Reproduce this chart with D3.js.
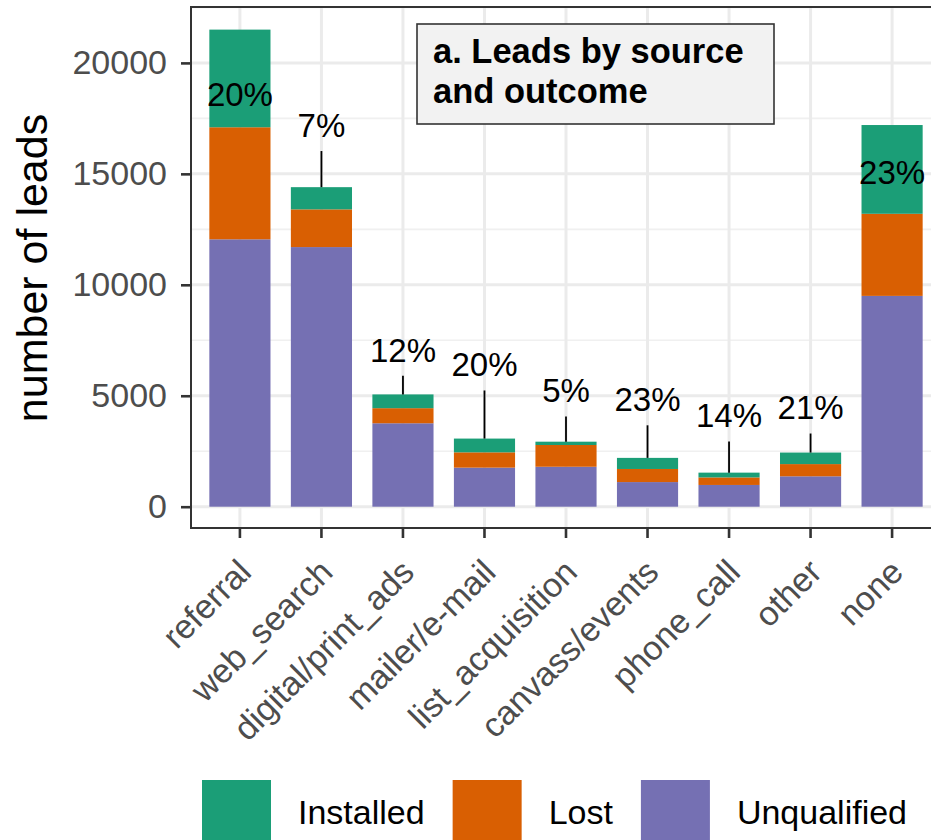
<!DOCTYPE html>
<html>
<head>
<meta charset="utf-8">
<script src="https://cdn.jsdelivr.net/npm/d3@7"></script>
<style>
  html, body { margin: 0; padding: 0; background: #fff; }
  svg { display: block; font-family: "Liberation Sans", Arial, Helvetica, sans-serif; }
</style>
</head>
<body>
<svg id="chart" width="931" height="840"></svg>
<script>
// Lead sources and outcome counts
const sources = ["referral", "web_search", "digital/print_ads", "mailer/e-mail",
  "list_acquisition", "canvass/events", "phone_call", "other", "none"];
const unqualified = [12050, 11700, 3760, 1760, 1800, 1110, 980, 1370, 9500];
const lost        = [5050, 1700, 680, 690, 980, 590, 340, 550, 3700];
const installed   = [4400, 1000, 620, 620, 150, 500, 215, 520, 4000];
const installedPct = ["20%", "7%", "12%", "20%", "5%", "23%", "14%", "21%", "23%"];
// where each percentage label sits, in leads (labels above a bar get a leader line)
const labelAt = [18600, 17200, 7070, 6410, 5240, 4840, 4110, 4470, 15080];
const yTicks = [0, 5000, 10000, 15000, 20000];
const yMinor = [2500, 7500, 12500, 17500, 22500];
const outcomes = ["Installed", "Lost", "Unqualified"];
const outcomeColors = ["#1b9e77", "#d95f02", "#7570b3"];

const svg = d3.select("#chart");
const panel = { left: 191, right: 941, top: 7, bottom: 528 };

const x = d3.scaleBand().domain(sources)
  .range([panel.left, panel.right]).paddingInner(0.25).paddingOuter(0.225);
const y = d3.scaleLinear().domain([0, 20000]).range([506.7, 62.9]);
const color = d3.scaleOrdinal().domain(outcomes).range(outcomeColors);

const rows = sources.map((s, i) => ({
  source: s, Unqualified: unqualified[i], Lost: lost[i], Installed: installed[i],
  pct: installedPct[i], labelAt: labelAt[i]
}));
const stacked = d3.stack().keys(["Unqualified", "Lost", "Installed"])(rows);

svg.append("defs").append("clipPath").attr("id", "panelClip")
  .append("rect").attr("x", panel.left).attr("y", panel.top)
  .attr("width", panel.right - panel.left).attr("height", panel.bottom - panel.top);

const plot = svg.append("g").attr("clip-path", "url(#panelClip)");

// grid
plot.selectAll(".minor").data(yMinor).join("line")
  .attr("x1", panel.left).attr("x2", panel.right)
  .attr("y1", d => y(d)).attr("y2", d => y(d))
  .attr("stroke", "#f0f0f0").attr("stroke-width", 1.6);
plot.selectAll(".major").data(yTicks).join("line")
  .attr("x1", panel.left).attr("x2", panel.right)
  .attr("y1", d => y(d)).attr("y2", d => y(d))
  .attr("stroke", "#ebebeb").attr("stroke-width", 3);
plot.selectAll(".vgrid").data(sources).join("line")
  .attr("x1", d => x(d) + x.bandwidth() / 2).attr("x2", d => x(d) + x.bandwidth() / 2)
  .attr("y1", panel.top).attr("y2", panel.bottom)
  .attr("stroke", "#ebebeb").attr("stroke-width", 3);

// stacked bars
plot.selectAll(".layer").data(stacked).join("g")
  .attr("fill", d => color(d.key))
  .selectAll("rect").data(d => d).join("rect")
  .attr("x", d => x(d.data.source))
  .attr("width", x.bandwidth())
  .attr("y", d => y(d[1]))
  .attr("height", d => y(d[0]) - y(d[1]));

// percentage labels and leader lines
rows.forEach(r => {
  const cx = x(r.source) + x.bandwidth() / 2;
  const total = r.Unqualified + r.Lost + r.Installed;
  const ly = y(r.labelAt);
  if (r.labelAt > total) {
    plot.append("line")
      .attr("x1", cx).attr("x2", cx)
      .attr("y1", ly + 26).attr("y2", y(total))
      .attr("stroke", "#000").attr("stroke-width", 1.8);
  }
  plot.append("text")
    .attr("x", cx).attr("y", ly).attr("dy", "0.36em")
    .attr("text-anchor", "middle")
    .attr("font-size", 33).attr("fill", "#000")
    .text(r.pct);
});

// title box
const tb = svg.append("g");
tb.append("rect").attr("x", 417).attr("y", 24).attr("width", 357).attr("height", 100)
  .attr("fill", "#f2f2f2").attr("stroke", "#333").attr("stroke-width", 1.6);
tb.append("text").attr("x", 433).attr("y", 63).attr("font-size", 34.5)
  .attr("font-weight", "bold").attr("fill", "#000").text("a. Leads by source");
tb.append("text").attr("x", 433).attr("y", 103).attr("font-size", 34.5)
  .attr("font-weight", "bold").attr("fill", "#000").text("and outcome");

// panel border
svg.append("rect").attr("x", panel.left).attr("y", panel.top)
  .attr("width", panel.right - panel.left).attr("height", panel.bottom - panel.top)
  .attr("fill", "none").attr("stroke", "#333").attr("stroke-width", 2);

// y axis
const yAxis = svg.append("g").attr("transform", `translate(${panel.left},0)`)
  .call(d3.axisLeft(y).tickValues(yTicks).tickSize(10).tickPadding(14).tickFormat(d3.format("d")));
yAxis.select(".domain").remove();
yAxis.selectAll(".tick line").attr("stroke", "#333").attr("stroke-width", 2.6);
yAxis.selectAll(".tick text").attr("font-size", 34).attr("fill", "#4d4d4d")
  .attr("font-family", "Liberation Sans, Arial, sans-serif");

// x axis
const xAxis = svg.append("g").attr("transform", `translate(0,${panel.bottom})`)
  .call(d3.axisBottom(x).tickSize(10).tickPadding(0));
xAxis.select(".domain").remove();
xAxis.selectAll(".tick line").attr("stroke", "#333").attr("stroke-width", 2.6);
xAxis.selectAll(".tick text")
  .attr("font-size", 34).attr("fill", "#4d4d4d")
  .attr("font-family", "Liberation Sans, Arial, sans-serif")
  .attr("text-anchor", "end")
  .attr("dy", "0.75em")
  .attr("transform", "translate(-12,21) rotate(-45)");

// y axis title
svg.append("text")
  .attr("transform", "translate(47,268) rotate(-90)")
  .attr("text-anchor", "middle").attr("font-size", 43).attr("fill", "#000")
  .text("number of leads");

// legend
const legend = svg.append("g");
let lx = 202;
outcomes.forEach(o => {
  legend.append("rect").attr("x", lx).attr("y", 780).attr("width", 69).attr("height", 69)
    .attr("fill", color(o));
  const t = legend.append("text").attr("x", lx + 69 + 27).attr("y", 812).attr("dy", "0.36em")
    .attr("font-size", 34).attr("fill", "#000").text(o);
  lx += 69 + 27 + t.node().getComputedTextLength() + 28;
});
</script>
</body>
</html>
